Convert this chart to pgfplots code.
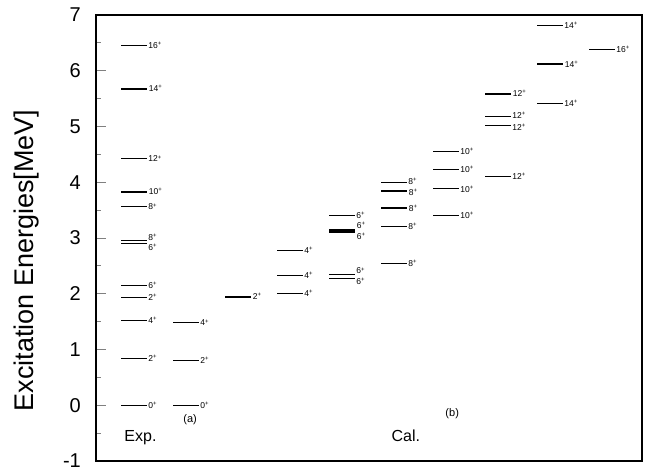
\documentclass[border=0pt]{standalone}
\usepackage{fontspec}
\setmainfont{Liberation Sans}
\usepackage{pgfplots}
\pgfplotsset{compat=1.18}
\usepackage{pgfplotstable}

\pgfplotstableread{
x y lab dy
0.25 6.45 16 0
0.25 4.42 12 0
0.25 3.56 8 0
0.25 2.95 8 3.5
0.25 2.90 6 -3.5
0.25 2.155 6 0
0.25 1.94 2 0
0.25 1.53 4 0
0.25 0.84 2 0
0.25 0 0 0
1.25 1.48 4 0
1.25 0.81 2 0
1.25 0 0 0
3.25 2.78 4 0
3.25 2.33 4 0
3.25 2.01 4 0
4.25 3.40 6 0
4.25 2.35 6 3.5
4.25 2.28 6 -3.5
5.25 3.99 8 1.5
5.25 3.21 8 0
5.25 2.55 8 0
6.25 4.55 10 0
6.25 4.23 10 0
6.25 3.88 10 0
6.25 3.41 10 0
7.25 5.18 12 1
7.25 5.01 12 -1
7.25 4.11 12 0
8.25 6.81 14 0
8.25 5.41 14 0
9.25 6.38 16 0
}\thinlevels

\pgfplotstableread{
x y lab dy
0.25 5.68 14 0
0.25 3.83 10 0
2.25 1.95 2 0
4.25 3.14 6 4.5
4.25 3.11 6 -4.5
5.25 3.85 8 -1.5
5.25 3.53 8 0
7.25 5.59 12 0
8.25 6.12 14 0
}\thicklevels

\begin{document}
\begin{tikzpicture}
\begin{axis}[
 scale only axis, width=546pt, height=446pt,
 xmin=-0.48, xmax=10.02, ymin=-1, ymax=7,
 xtick=\empty, ytick={-1,0,...,7}, minor y tick num=1,
 ytick pos=left, tick align=inside,
 major tick length=10pt, minor tick length=5pt,
 y tick style={gray, line width=0.8pt},
 yticklabel style={font=\fontsize{20}{20}\selectfont, inner sep=0pt, xshift=-15pt},
 /pgf/number format/assume math mode=true,
 ylabel={Excitation Energies[MeV]},
 ylabel style={font=\fontsize{27}{27}\selectfont, at={(axis description cs:-0.1264,0.45)}, anchor=center},
 axis line style={line width=1.2pt},
 clip=false,
 point meta=explicit symbolic,
 nodes near coords={\pgfplotspointmeta\textsuperscript{+}},
 visualization depends on={\thisrow{dy} \as \dy},
 nodes near coords align={anchor=west},
 nodes near coords style={font=\fontsize{8.5}{8.5}\selectfont, anchor=west, inner sep=0pt, xshift=14pt, yshift=\dy pt},
]
\addplot[only marks, mark=-, mark size=13pt, mark options={line width=0.9pt}] table[x=x, y=y, meta=lab] {\thinlevels};
\addplot[only marks, mark=-, mark size=13pt, mark options={line width=2pt}] table[x=x, y=y, meta=lab] {\thicklevels};
\node[anchor=west, font=\fontsize{16}{16}\selectfont] at (axis cs:0,-0.58) {Exp.};
\node[font=\fontsize{11}{11}\selectfont] at (axis cs:1.33,-0.25) {(a)};
\node[font=\fontsize{16}{16}\selectfont] at (axis cs:5.48,-0.54) {Cal.};
\node[font=\fontsize{11}{11}\selectfont] at (axis cs:6.37,-0.15) {(b)};
\end{axis}
\pgfresetboundingbox
\path[use as bounding box] ([xshift=-96pt,yshift=-10pt]current axis.south west) rectangle ([xshift=5pt,yshift=15pt]current axis.north east);
\end{tikzpicture}
\end{document}
